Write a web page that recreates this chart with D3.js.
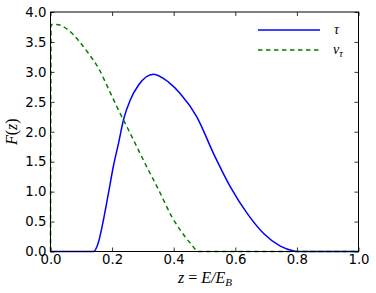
<!DOCTYPE html>
<html>
<head>
<meta charset="utf-8">
<script src="https://cdn.jsdelivr.net/npm/d3@7"></script>
<style>
  body { margin: 0; background: #fff; }
  .tick text { font-family: "DejaVu Sans", sans-serif; font-size: 13.3px; fill: #000; }
  .math { font-family: "Liberation Serif", "DejaVu Serif", serif; font-style: italic; }
</style>
</head>
<body>
<div id="chart"></div>
<script>
// tau spectrum
var tauZ = [0, 0.10, 0.139, 0.156, 0.172, 0.188, 0.204, 0.221, 0.237, 0.259, 0.286, 0.334, 0.383, 0.421, 0.475, 0.529, 0.584, 0.638, 0.692, 0.746, 0.79, 0.80, 0.9, 1.0];
var tauF = [0, 0, 0, 0.16, 0.53, 0.97, 1.42, 1.81, 2.20, 2.53, 2.78, 2.96, 2.83, 2.64, 2.25, 1.64, 1.08, 0.64, 0.30, 0.09, 0.01, 0, 0, 0];

// nu_tau spectrum
var nuZ = [0, 0.002, 0.02, 0.058, 0.09, 0.123, 0.156, 0.188, 0.221, 0.264, 0.307, 0.351, 0.394, 0.421, 0.454, 0.481, 0.6, 1.0];
var nuF = [0, 3.79, 3.79, 3.70, 3.53, 3.31, 3.06, 2.72, 2.36, 1.92, 1.47, 1.03, 0.58, 0.36, 0.14, 0, 0, 0];

var xTicks = [0, 0.2, 0.4, 0.6, 0.8, 1.0];
var yTicks = [0, 0.5, 1.0, 1.5, 2.0, 2.5, 3.0, 3.5, 4.0];

const dims = { width: 376, height: 293, left: 50.5, right: 358.5, top: 12, bottom: 251.5 };

const svg = d3.select('#chart').append('svg')
  .attr('width', dims.width)
  .attr('height', dims.height);

const x = d3.scaleLinear().domain([0, 1]).range([dims.left, dims.right]);
const y = d3.scaleLinear().domain([0, 4]).range([dims.bottom, dims.top]);

const line = d3.line()
  .x(d => x(d[0]))
  .y(d => y(d[1]))
  .curve(d3.curveMonotoneX);

// curves
svg.append('path')
  .datum(tauZ.map((z, i) => [z, tauF[i]]))
  .attr('fill', 'none')
  .attr('stroke', '#0000ff')
  .attr('stroke-width', 1.5)
  .attr('d', line);

svg.append('path')
  .datum(nuZ.map((z, i) => [z, nuF[i]]))
  .attr('fill', 'none')
  .attr('stroke', '#008000')
  .attr('stroke-width', 1.5)
  .attr('stroke-dasharray', '4.5,3.5')
  .attr('d', line);

// axes with inward ticks on all sides
function styleAxis(g) {
  g.select('.domain').remove();
  g.selectAll('.tick line').attr('stroke', '#000').attr('stroke-width', 0.8);
}

svg.append('g')
  .attr('transform', `translate(0,${dims.bottom})`)
  .call(d3.axisBottom(x).tickValues(xTicks).tickFormat(d3.format('.1f')).tickSize(-4).tickPadding(3))
  .call(styleAxis);

svg.append('g')
  .attr('transform', `translate(0,${dims.top})`)
  .call(d3.axisTop(x).tickValues(xTicks).tickFormat('').tickSize(-4))
  .call(styleAxis);

svg.append('g')
  .attr('transform', `translate(${dims.left},0)`)
  .call(d3.axisLeft(y).tickValues(yTicks).tickFormat(d3.format('.1f')).tickSize(-4).tickPadding(4))
  .call(styleAxis);

svg.append('g')
  .attr('transform', `translate(${dims.right},0)`)
  .call(d3.axisRight(y).tickValues(yTicks).tickFormat('').tickSize(-4))
  .call(styleAxis);

svg.append('rect')
  .attr('x', dims.left).attr('y', dims.top)
  .attr('width', dims.right - dims.left).attr('height', dims.bottom - dims.top)
  .attr('fill', 'none').attr('stroke', '#000').attr('stroke-width', 1);

// legend
const legend = svg.append('g');
legend.append('line')
  .attr('x1', 258).attr('x2', 320).attr('y1', 30).attr('y2', 30)
  .attr('stroke', '#0000ff').attr('stroke-width', 1.5);
legend.append('line')
  .attr('x1', 258).attr('x2', 320).attr('y1', 50).attr('y2', 50)
  .attr('stroke', '#008000').attr('stroke-width', 1.5).attr('stroke-dasharray', '4.5,3.5');
legend.append('text').attr('class', 'math')
  .attr('x', 334).attr('y', 34).attr('font-size', 14).text('τ');
const nu = legend.append('text').attr('class', 'math')
  .attr('x', 333).attr('y', 54).attr('font-size', 14);
nu.append('tspan').text('ν');
nu.append('tspan').attr('font-size', 10).attr('dy', 3).text('τ');

// axis labels
const xl = svg.append('text').attr('class', 'math')
  .attr('x', 205).attr('y', 283).attr('text-anchor', 'middle').attr('font-size', 16);
xl.append('tspan').text('z');
xl.append('tspan').attr('font-style', 'normal').text(' = ');
xl.append('tspan').text('E/E');
xl.append('tspan').attr('font-size', 11).attr('dy', 3).text('B');

const yl = svg.append('text').attr('class', 'math')
  .attr('transform', `translate(17,${(dims.top + dims.bottom) / 2}) rotate(-90)`)
  .attr('text-anchor', 'middle').attr('font-size', 16);
yl.append('tspan').text('F');
yl.append('tspan').attr('font-style', 'normal').text('(');
yl.append('tspan').text('z');
yl.append('tspan').attr('font-style', 'normal').text(')');
</script>
</body>
</html>
